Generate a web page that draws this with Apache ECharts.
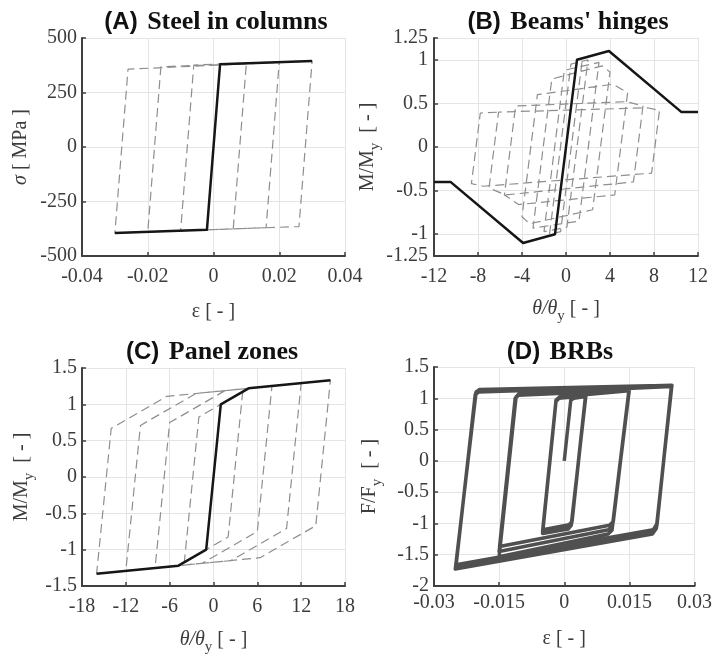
<!DOCTYPE html>
<html>
<head>
<meta charset="utf-8">
<script src="https://cdn.jsdelivr.net/npm/echarts@6/dist/echarts.min.js"></script>
<style>
  html, body { margin: 0; padding: 0; background: #ffffff; }
  #chart { width: 715px; height: 660px; }
</style>
</head>
<body>
<div id="chart"></div>
<script>
// ---- (A) Steel in columns: monotonic backbone and cyclic response [strain, MPa]
const colBackbone = [[-0.03, -395], [-0.002, -380], [0.002, 380], [0.03, 395]];
const colCyclic = [
  [0, 0], [0.002, 380], [0.01, 384], [0.006, -376], [-0.01, -384], [-0.006, 376],
  [0.02, 390], [0.016, -370], [-0.02, -390], [-0.016, 368], [0.03, 395],
  [0.026, -365], [-0.03, -395], [-0.026, 357], [0.03, 395]
];
const colXTicks = [-0.04, 0.04, 0.02];
const colYTicks = [-500, 500, 250];

// ---- (B) Beams' hinges: backbone and deteriorating cyclic loops [θ/θy, M/My]
const hingeBackbone = [[-12, -0.4], [-10.5, -0.4], [-3.9, -1.1], [-1, -1], [1, 1], [3.9, 1.1], [10.5, 0.4], [12, 0.4]];
const hingeCyclic = [
  [0, 0], [1.0, 1.0], [1.5, 1.02], [-0.49, -0.97], [-1.5, -1.0],
  [0.45, 0.95], [2.0, 1.0], [0.08, -0.92], [-2.0, -0.97],
  [-0.15, 0.88], [3.0, 0.97], [1.18, -0.85], [-3.0, -0.93],
  [-1.29, 0.78], [3.3, 0.93], [4.0, 0.86], [2.42, -0.72], [-3.3, -0.88], [-4.0, -0.8],
  [-2.6, 0.6], [4.3, 0.72], [5.6, 0.62], [4.43, -0.55], [-4.3, -0.66], [-5.6, -0.55],
  [-4.58, 0.47], [5.5, 0.52], [7.0, 0.47], [6.13, -0.4], [-5.5, -0.55], [-7.0, -0.47],
  [-6.13, 0.4], [7.4, 0.45], [8.5, 0.42], [7.78, -0.3], [-7.5, -0.45], [-8.6, -0.42],
  [-7.79, 0.39], [-6.0, 0.4]
];
const hingeXTicks = [-12, 12, 4];
const hingeYTicks = [-1.25, -1, -0.5, 0, 0.5, 1, 1.25];

// ---- (C) Panel zones: trilinear backbone and cyclic loops [θ/θy, M/My]
const pzBackbone = [[-16, -1.33], [-4.8, -1.22], [-1, -1], [1, 1], [4.8, 1.22], [16, 1.33]];
const pzCyclic = [
  [0, 0], [1, 1], [4, 1.174], [2, -0.826], [-4, -1.174], [-2, 0.826], [4, 1.174],
  [4.8, 1.22], [8, 1.251], [6, -0.749], [-1.6, -1.19], [-8, -1.251], [-6, 0.749],
  [1.6, 1.19], [8, 1.251], [12, 1.29], [10, -0.71], [2.4, -1.15], [-12, -1.29],
  [-10, 0.71], [-2.4, 1.15], [12, 1.29], [16, 1.33], [14, -0.67], [6.4, -1.11],
  [-16, -1.33], [-14, 0.67], [-6.4, 1.11], [16, 1.33]
];
const pzXTicks = [-18, 18, 6];
const pzYTicks = [-1.5, 1.5, 0.5];

// ---- (D) BRBs: axial force history [strain, F/Fy]
const brbCyclic = [
  [0, 0], [0.0015, 0.97], [0.0022, 1.0], [0.0049, 1.03],
  [0.0018, -0.97], [0.0011, -1.02], [-0.0049, -1.1],
  [-0.0019, 0.95], [-0.0012, 1.0], [0.0049, 1.04],
  [0.0017, -1.0], [0.0010, -1.06], [-0.0050, -1.13],
  [-0.0019, 0.96], [-0.0012, 1.01], [0.0050, 1.05],
  [0.0016, -1.03], [0.0009, -1.09], [-0.0050, -1.16],
  [-0.0019, 0.97], [-0.0011, 1.02], [0.0149, 1.12],
  [0.0113, -0.97], [0.0104, -1.03], [-0.0149, -1.37],
  [-0.0113, 1.0], [-0.0105, 1.05], [0.0149, 1.13],
  [0.0111, -1.04], [0.0102, -1.1], [-0.0150, -1.45],
  [-0.0112, 1.01], [-0.0104, 1.07], [0.0150, 1.14],
  [0.0110, -1.11], [0.0101, -1.17], [-0.0150, -1.53],
  [-0.0111, 1.02], [-0.0103, 1.08], [0.0247, 1.19],
  [0.0214, -1.0], [0.0205, -1.1], [-0.0249, -1.66],
  [-0.0205, 1.06], [-0.0197, 1.1], [0.0247, 1.2],
  [0.0213, -1.05], [0.0204, -1.14], [-0.0250, -1.70],
  [-0.0204, 1.08], [-0.0196, 1.12], [0.0248, 1.21],
  [0.0212, -1.08], [0.0203, -1.17], [-0.0251, -1.73],
  [-0.0203, 1.10], [-0.0195, 1.14], [0.0248, 1.21]
];
const brbXTicks = [-0.03, 0.03, 0.015];
const brbYTicks = [-2, 1.5, 0.5];

// ---- styling
const SERIF = 'Liberation Serif';
const SANS = 'Liberation Sans';
const AXIS_COLOR = '#404040';
const LABEL_COLOR = '#3c3c3c';
const GRID_COLOR = '#e4e4e4';

const nameRich = {
  n: { fontFamily: SERIF, fontSize: 20, color: LABEL_COLOR, lineHeight: 30, verticalAlign: 'middle' },
  i: { fontFamily: SERIF, fontSize: 20, fontStyle: 'italic', color: LABEL_COLOR, lineHeight: 30, verticalAlign: 'middle' },
  s: { fontFamily: SERIF, fontSize: 15, color: LABEL_COLOR, lineHeight: 30, verticalAlign: 'bottom' }
};

function axis(gridIndex, ticks, name, gap, margin, custom) {
  const a = {
    type: 'value',
    gridIndex: gridIndex,
    min: ticks[0],
    max: ticks[1],
    name: name,
    nameLocation: 'middle',
    nameGap: gap,
    nameTextStyle: { rich: nameRich, fontFamily: SERIF, fontSize: 20, color: LABEL_COLOR },
    axisLine: { show: true, onZero: false, lineStyle: { color: AXIS_COLOR, width: 2 } },
    axisTick: { show: true, inside: true, length: 4, lineStyle: { color: AXIS_COLOR, width: 1.5 } },
    axisLabel: { fontFamily: SERIF, fontSize: 20, color: LABEL_COLOR, margin: margin },
    splitLine: { show: true, lineStyle: { color: GRID_COLOR, width: 1 } }
  };
  if (custom) {
    a.axisTick.customValues = ticks;
    a.axisLabel.customValues = ticks;
    a.min = ticks[0];
    a.max = ticks[ticks.length - 1];
  } else {
    a.interval = ticks[2];
  }
  return a;
}

function dashed(data, xi) {
  return {
    type: 'line', xAxisIndex: xi, yAxisIndex: xi, data: data,
    showSymbol: false, symbol: 'none', silent: true, z: 2,
    lineStyle: { color: '#8e8e8e', width: 1.2, type: [9, 5] }
  };
}
function solid(data, xi, color, width) {
  return {
    type: 'line', xAxisIndex: xi, yAxisIndex: xi, data: data,
    showSymbol: false, symbol: 'none', silent: true, z: 3,
    lineStyle: { color: color, width: width, join: 'round' }
  };
}

function title(label, text, x, y) {
  return {
    text: '{a|' + label + '}{b| ' + text + '}',
    left: x, top: y, textAlign: 'center',
    textStyle: {
      rich: {
        a: { fontFamily: SANS, fontSize: 24, color: '#111', padding: [0, 3, 0, 0] },
        b: { fontFamily: SERIF, fontSize: 26, fontWeight: 'bold', color: '#111' }
      }
    }
  };
}

const chart = echarts.init(document.getElementById('chart'), null, { renderer: 'canvas' });
chart.setOption({
  animation: false,
  backgroundColor: '#ffffff',
  title: [
    title('(A)', 'Steel in columns', 211, 4),
    title('(B)', "Beams' hinges", 563, 4),
    title('(C)', 'Panel zones', 207, 334),
    title('(D)', 'BRBs', 555, 334)
  ],
  grid: [
    { left: 82, top: 38, width: 263, height: 218 },
    { left: 434, top: 38, width: 264, height: 218 },
    { left: 82, top: 368, width: 263, height: 218 },
    { left: 434, top: 367, width: 264, height: 219 }
  ],
  xAxis: [
    axis(0, colXTicks, 'ε [ - ]', 46, 11),
    axis(1, hingeXTicks, '{i|θ/θ}{s|y}{n| [ - ]}', 38, 11),
    axis(2, pzXTicks, '{i|θ/θ}{s|y}{n| [ - ]}', 39, 11),
    axis(3, brbXTicks, 'ε [ - ]', 43, 7)
  ],
  yAxis: [
    axis(0, colYTicks, '{i|σ}{n| [ MPa ]}', 46, 5),
    axis(1, hingeYTicks, '{n|M/M}{s|y}{n|  [ - ]}', 45, 6, true),
    axis(2, pzYTicks, '{n|M/M}{s|y}{n|  [ - ]}', 45, 5),
    axis(3, brbYTicks, '{n|F/F}{s|y}{n|  [ - ]}', 49, 5)
  ],
  series: [
    dashed(colCyclic, 0), solid(colBackbone, 0, '#161616', 2.5),
    dashed(hingeCyclic, 1), solid(hingeBackbone, 1, '#161616', 2.5),
    dashed(pzCyclic, 2), solid(pzBackbone, 2, '#161616', 2.5),
    solid(brbCyclic, 3, '#505050', 3.5)
  ]
});
</script>
</body>
</html>
